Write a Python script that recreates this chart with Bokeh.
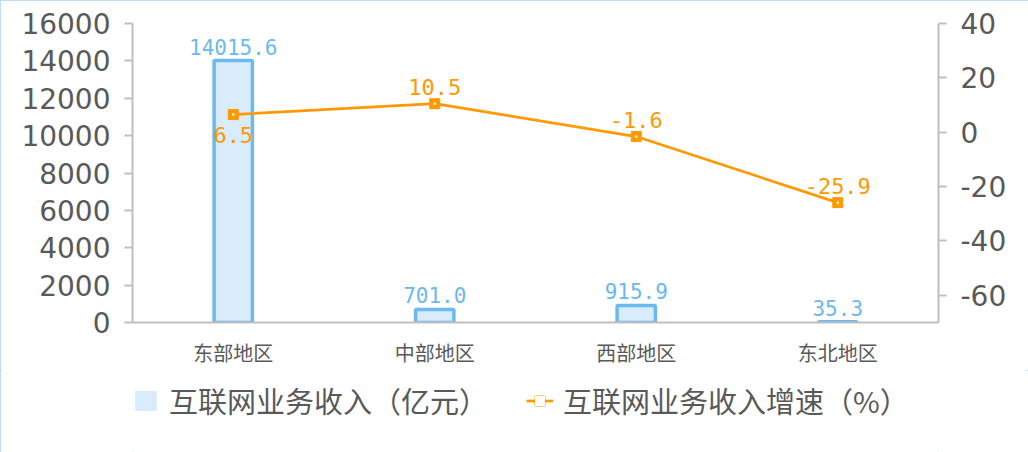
from bokeh.plotting import figure
from bokeh.layouts import column
from bokeh.models import (Range1d, FactorRange, LinearAxis, FixedTicker, Legend, LegendItem,
                          ColumnDataSource, CustomJSTickFormatter)
from bokeh.core.properties import value
from bokeh.embed import file_html
from bokeh.resources import INLINE

# ---- data ----
regions = ["东部地区", "中部地区", "西部地区", "东北地区"]
revenue = [14015.6, 701.0, 915.9, 35.3]          # 亿元
growth = [6.5, 10.5, -1.6, -25.9]                # %
revenue_labels = ["14015.6", "701.0", "915.9", "35.3"]
growth_labels = ["6.5", "10.5", "-1.6", "-25.9"]
left_ticks = [0, 2000, 4000, 6000, 8000, 10000, 12000, 14000, 16000]
right_ticks = [-60, -40, -20, 0, 20, 40]
series_names = ["互联网业务收入（亿元）", "互联网业务收入增速（%）"]

# ---- style ----
BAR_LINE = "#6CB8F0"
BAR_FILL = "#D9ECFB"
ORANGE = "#FF9900"
AXIS = "#BFBFBF"
TXT = "#595959"
growth_label_below = [True, False, False, False]

p = figure(x_range=FactorRange(*regions, range_padding=0), y_range=Range1d(0, 16000),
           frame_width=806, frame_height=299,
           min_border_left=132, min_border_right=90, min_border_top=23, min_border_bottom=48,
           output_backend="svg", toolbar_location=None)
p.extra_y_ranges = {"growth": Range1d(-70, 40)}
p.outline_line_color = None
p.xgrid.visible = False
p.ygrid.visible = False
p.background_fill_color = "white"
p.border_fill_color = "white"

# bars
src = ColumnDataSource(dict(x=regions, top=revenue, lab=revenue_labels))
p.vbar(x="x", top="top", width=0.19, source=src, fill_color=BAR_FILL,
       line_color=BAR_LINE, line_width=3.5)
p.text(x="x", y="top", text="lab", source=src, text_align="center",
       text_baseline="bottom", y_offset=-6, text_color=BAR_LINE,
       text_font=value("DejaVu Sans Mono"), text_font_size="21px")

# growth line
gsrc = ColumnDataSource(dict(x=regions, y=growth, lab=growth_labels))
p.line(x="x", y="y", source=gsrc, y_range_name="growth", line_color=ORANGE, line_width=2.7)
p.scatter(x="x", y="y", source=gsrc, y_range_name="growth", marker="square",
          size=10, fill_color=ORANGE, line_color=ORANGE)
p.scatter(x="x", y="y", source=gsrc, y_range_name="growth", marker="circle",
          size=2.5, fill_color="white", line_color=None)

above_idx = [i for i, b in enumerate(growth_label_below) if not b]
below_idx = [i for i, b in enumerate(growth_label_below) if b]
for idx, base, off in ((above_idx, "bottom", -9), (below_idx, "top", 12)):
    s = ColumnDataSource(dict(x=[regions[i] for i in idx], y=[growth[i] for i in idx],
                              lab=[growth_labels[i] for i in idx]))
    p.text(x="x", y="y", text="lab", source=s, y_range_name="growth",
           text_align="center", text_baseline=base, y_offset=off, text_color=ORANGE,
           text_font=value("DejaVu Sans Mono"), text_font_size="22px")

# axes
def style_axis(ax):
    ax.axis_line_color = AXIS
    ax.axis_line_width = 2
    ax.major_tick_line_color = AXIS
    ax.major_tick_line_width = 2
    ax.major_tick_out = 8
    ax.major_tick_in = 0
    ax.minor_tick_line_color = None
    ax.major_label_text_color = TXT
    ax.major_label_text_font = "DejaVu Sans"
    ax.major_label_text_font_size = "28px"
    ax.major_label_standoff = 14
    ax.formatter = CustomJSTickFormatter(code="return tick.toFixed(0);")

ly = p.yaxis[0]
ly.ticker = FixedTicker(ticks=left_ticks)
style_axis(ly)

ry = LinearAxis(y_range_name="growth", ticker=FixedTicker(ticks=right_ticks))
style_axis(ry)
p.add_layout(ry, "right")

xa = p.xaxis[0]
xa.axis_line_color = AXIS
xa.axis_line_width = 2
xa.major_tick_line_color = None
xa.minor_tick_line_color = None
xa.major_label_text_color = TXT
xa.major_label_text_font = "Noto Sans CJK SC"
xa.major_label_text_font_size = "20px"
xa.major_label_standoff = 9

# ---- legend strip (separate small figure holding only the legend) ----
lg = figure(width=1028, height=82, x_range=Range1d(0, 1), y_range=Range1d(0, 1),
            min_border_left=132, min_border_right=90, min_border_top=0, min_border_bottom=0,
            output_backend="svg", toolbar_location=None)
lg.axis.visible = False
lg.grid.visible = False
lg.outline_line_color = None
# off-screen placeholder sources, used only so the legend draws its swatches
off_bar = ColumnDataSource(dict(x=[-10.0], top=[-10.0]))
off_pt = ColumnDataSource(dict(x=[-10.0, -9.0], y=[-10.0, -10.0]))
bar_leg = lg.vbar(x="x", top="top", bottom=-11, width=0.1, source=off_bar,
                  fill_color=BAR_FILL, line_color=None)
line_leg = lg.line(x="x", y="y", source=off_pt, line_color=ORANGE, line_width=2.7)
sq_leg = lg.scatter(x="x", y="y", source=off_pt, marker="square", size=11,
                    fill_color=ORANGE, line_color=ORANGE)
dot_leg = lg.scatter(x="x", y="y", source=off_pt, marker="square", size=3.5,
                     fill_color="white", line_color=None)
legend = Legend(items=[LegendItem(label=series_names[0], renderers=[bar_leg]),
                       LegendItem(label=series_names[1], renderers=[line_leg, sq_leg, dot_leg])],
                orientation="horizontal", location=(0, 31),
                glyph_width=27, glyph_height=25, label_standoff=10, spacing=38,
                padding=0, margin=0, border_line_color=None, background_fill_alpha=0,
                label_text_font="Noto Sans CJK SC", label_text_font_size="29px",
                label_text_color=TXT)
lg.add_layout(legend, "center")

layout = column(p, lg, spacing=0)
layout.styles = {"outline": "2px solid #A9D1F3", "outline-offset": "-2px"}

open("out.html", "w").write(file_html(layout, INLINE))
